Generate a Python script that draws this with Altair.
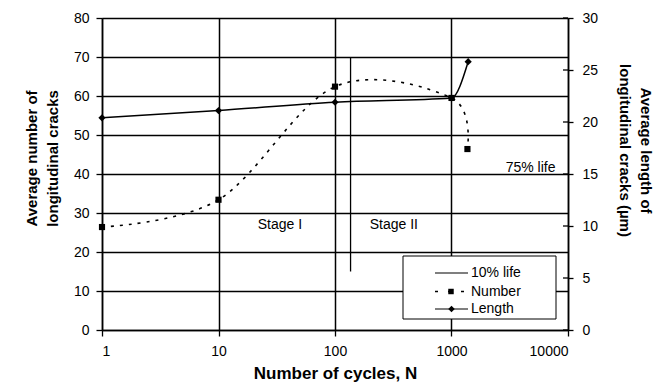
import altair as alt
import pandas as pd

# ---- data -------------------------------------------------------------
# Average number of longitudinal cracks (left axis)
number_cycles = [1, 10, 100, 1000, 1370]
number_values = [26.4, 33.4, 62.4, 59.5, 46.4]

# Average length of longitudinal cracks, µm (right axis)
length_cycles = [1, 10, 100, 1000, 1390]
length_values = [20.4, 21.1, 21.9, 22.3, 25.8]

# 10% life marker (cycles, left-axis span)
life10_cycles = [136]
life10_low = [15]
life10_high = [70]

# Annotations
note_texts = ["Stage I", "Stage II", "75% life"]
note_cycles = [33.7, 320, 4770]
note_values = [26.8, 26.8, 41.6]

# Axis ticks
x_ticks = [1, 10, 100, 1000, 10000]
left_ticks = list(range(0, 81, 10))
right_ticks = list(range(0, 31, 5))

legend_labels = ["10% life", "Number", "Length"]

FONT = "Liberation Sans"
W, H = 466, 312

# ---- frames -----------------------------------------------------------
num_df = pd.DataFrame({"N": number_cycles, "v": number_values})
len_df = pd.DataFrame({"N": length_cycles, "L": length_values})
rule_df = pd.DataFrame({"N": life10_cycles, "v": life10_low, "v2": life10_high})
note_df = pd.DataFrame({"N": note_cycles, "v": note_values, "text": note_texts})
rtick_df = pd.DataFrame({"L": right_ticks})
one = pd.DataFrame({"k": [0]})

x_scale = alt.Scale(type="log", domain=[1, 10000], nice=False)
x_enc = alt.X(
    "N:Q",
    scale=x_scale,
    axis=alt.Axis(
        values=x_ticks, format="d", grid=True,
        title="Number of cycles, N",
        titleFontSize=17, titleX=W / 2, titleY=43,
        titleAlign="center", titleBaseline="middle",
        tickSize=6, labelPadding=8,
    ),
)

y_left = alt.Y(
    "v:Q",
    scale=alt.Scale(domain=[0, 80], nice=False),
    axis=alt.Axis(
        values=left_ticks, grid=True,
        title=["Average number of", "longitudinal cracks"],
        titleAngle=270, titleX=-71, titleY=140,
        titleAlign="center", titleBaseline="middle", titleLineHeight=21,
        tickSize=6, labelPadding=7,
    ),
)

y_right = alt.Y(
    "L:Q",
    scale=alt.Scale(domain=[0, 30], nice=False),
    axis=alt.Axis(
        orient="right", values=right_ticks, grid=False,
        title=["Average length of", "longitudinal cracks (µm)"],
        titleAngle=90, titleX=77, titleY=132,
        titleAlign="center", titleBaseline="middle", titleLineHeight=21,
        tickSize=5, labelPadding=9,
    ),
)

# ---- number of cracks (dotted smooth curve + squares) ----------------
number_line = alt.Chart(num_df).mark_line(
    interpolate="cardinal", color="black", strokeWidth=1.6, strokeDash=[3, 6]
).encode(x=x_enc, y=y_left)

number_pts = alt.Chart(num_df).mark_point(
    shape="square", filled=True, size=38, color="black", opacity=1
).encode(x=x_enc, y=y_left)

life_rule = alt.Chart(rule_df).mark_rule(color="black", strokeWidth=1.3).encode(
    x=x_enc, y=y_left, y2="v2:Q"
)

notes = alt.Chart(note_df).mark_text(
    font=FONT, fontSize=14, color="black", align="center", baseline="middle"
).encode(x=x_enc, y=y_left, text="text:N")

left_group = alt.layer(number_line, number_pts, life_rule, notes)

# ---- crack length (solid smooth curve + diamonds) ---------------------
length_line = alt.Chart(len_df).mark_line(
    interpolate="monotone", color="black", strokeWidth=1.5
).encode(x=x_enc, y=y_right)

length_pts = alt.Chart(len_df).mark_point(
    shape="diamond", filled=True, size=52, color="black", opacity=1
).encode(x=x_enc, y=y_right)

# inner half of the right-axis ticks (they cross the axis line)
right_inner_ticks = alt.Chart(rtick_df).mark_rule(color="black", strokeWidth=1.3).encode(
    x=alt.value(W - 5), x2=alt.value(W), y=y_right
)

right_group = alt.layer(length_line, length_pts, right_inner_ticks)

# ---- legend box -------------------------------------------------------
box = alt.Chart(one).mark_rect(fill="white", stroke="black", strokeWidth=1).encode(
    x=alt.value(301), x2=alt.value(454), y=alt.value(238), y2=alt.value(301)
)
row_y = [255, 273.5, 291]
legend_layers = [box]
for label, ry in zip(legend_labels, row_y):
    if label == "Number":
        legend_layers.append(
            alt.Chart(one).mark_rule(color="black", strokeWidth=1.5, strokeDash=[3, 10]).encode(
                x=alt.value(333), x2=alt.value(366), y=alt.value(ry)
            )
        )
        legend_layers.append(
            alt.Chart(one).mark_point(shape="square", filled=True, size=30, color="black", opacity=1).encode(
                x=alt.value(349), y=alt.value(ry)
            )
        )
    else:
        legend_layers.append(
            alt.Chart(one).mark_rule(color="black", strokeWidth=1.2).encode(
                x=alt.value(333), x2=alt.value(366), y=alt.value(ry)
            )
        )
        if label == "Length":
            legend_layers.append(
                alt.Chart(one).mark_point(shape="diamond", filled=True, size=42, color="black", opacity=1).encode(
                    x=alt.value(349.5), y=alt.value(ry)
                )
            )
    legend_layers.append(
        alt.Chart(one).mark_text(
            text=label, font=FONT, fontSize=14, color="black", align="left", baseline="middle"
        ).encode(x=alt.value(369), y=alt.value(ry))
    )
legend_group = alt.layer(*legend_layers)

chart = (
    alt.layer(left_group, right_group, legend_group)
    .resolve_scale(y="independent")
    .properties(
        width=W,
        height=H,
        autosize=alt.AutoSizeParams(type="none"),
        padding={"left": 102, "top": 18, "right": 87, "bottom": 58},
        background="white",
    )
    .configure_view(strokeWidth=0)
    .configure_axis(
        labelFont=FONT, labelFontSize=14, labelColor="black",
        titleFont=FONT, titleFontSize=15, titleFontWeight="bold", titleColor="black",
        domainColor="black", domainWidth=1.5,
        tickColor="black", tickWidth=1.3,
        gridColor="black", gridWidth=1.5, gridOpacity=1,
    )
)

chart.save("out.html", embed_options={"renderer": "svg", "actions": False})
